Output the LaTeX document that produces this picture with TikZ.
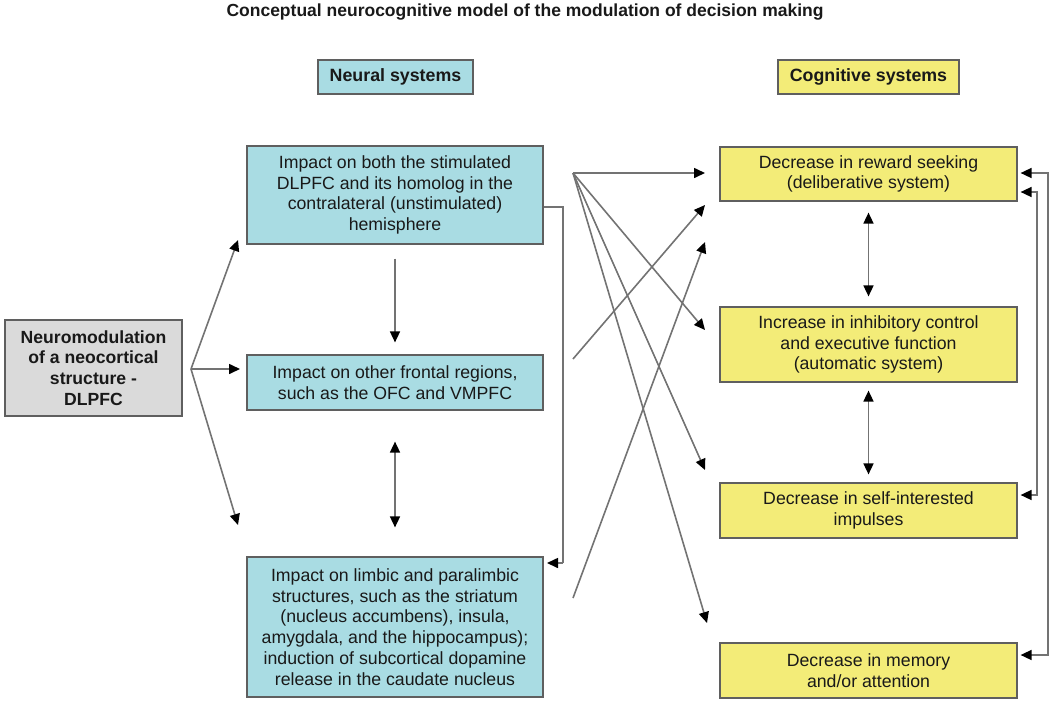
\documentclass[tikz,border=0pt]{standalone}
\usepackage{fontspec}
\setmainfont{Liberation Sans}
\usetikzlibrary{arrows.meta,calc}
\definecolor{nblue}{RGB}{169,220,227}
\definecolor{cyel}{RGB}{243,236,120}
\definecolor{dgray}{RGB}{218,218,218}
\definecolor{boxline}{RGB}{95,95,95}
\definecolor{linegray}{RGB}{115,115,115}
\definecolor{txt}{RGB}{25,25,25}
\begin{document}
\begin{tikzpicture}[x=1pt,y=-1pt,
  box/.style={draw=boxline, line width=1.2pt, align=center, inner sep=0pt,
    font=\fontsize{17.7}{20.7}\selectfont, text=txt},
  neural/.style={box, fill=nblue, minimum width=296pt},
  cog/.style={box, fill=cyel, minimum width=297pt},
  head/.style={box, font=\fontsize{17.8}{20}\selectfont\bfseries, minimum height=34pt},
  arr/.style={draw=linegray, line width=1.6pt, -{Triangle[length=11pt,width=10pt,color=black]}},
  darr/.style={draw=linegray, line width=1.6pt, {Triangle[length=11pt,width=10pt,color=black]}-{Triangle[length=11pt,width=10pt,color=black]}},
  ln/.style={draw=linegray, line width=1.6pt}]
\useasboundingbox (0,0) rectangle (1050,702);

% title and headers
\node[font=\fontsize{17.5}{20}\selectfont\bfseries, text=txt] (title) at (525,12)
  {Conceptual neurocognitive model of the modulation of decision making};
\node[head, fill=nblue, minimum width=155pt] (neural) at (395.5,77) {Neural systems};
\node[head, fill=cyel, minimum width=181pt] (cognitive) at (868.5,77) {Cognitive systems};

% source box
\node[box, fill=dgray, minimum width=177pt, minimum height=96pt,
  font=\fontsize{17.6}{20.7}\selectfont\bfseries] (dl) at (93.5,368)
  {Neuromodulation\\of a neocortical\\structure -\\DLPFC};

% neural boxes
\node[neural, minimum height=98pt] (A) at (395,195)
  {Impact on both the stimulated\\DLPFC and its homolog in the\\contralateral (unstimulated)\\hemisphere};
\node[neural, minimum height=55pt] (B) at (395,382.5)
  {Impact on other frontal regions,\\such as the OFC and VMPFC};
\node[neural, minimum height=140pt] (C) at (395,627)
  {Impact on limbic and paralimbic\\structures, such as the striatum\\(nucleus accumbens), insula,\\amygdala, and the hippocampus);\\induction of subcortical dopamine\\release in the caudate nucleus};

% cognitive boxes
\node[cog, minimum height=54pt] (Y1) at (868.5,174)
  {Decrease in reward seeking\\(deliberative system)};
\node[cog, minimum height=75pt] (Y2) at (868.5,344.5)
  {Increase in inhibitory control\\and executive function\\(automatic system)};
\node[cog, minimum height=55pt] (Y3) at (868.5,510.5)
  {Decrease in self-interested\\impulses};
\node[cog, minimum height=55pt] (Y4) at (868.5,670.5)
  {Decrease in memory\\and/or attention};

% fan from source box
\coordinate (f) at (191,369);
\coordinate (fa) at (238,240);
\coordinate (fb) at (240,369);
\coordinate (fc) at (238,525);
\draw[arr] (f) -- (fa);
\draw[arr] (f) -- (fb);
\draw[arr] (f) -- (fc);

% within neural column
\draw[arr] ([yshift=-14pt]A.south) -- ([yshift=12pt]B.north);
\draw[darr] ([yshift=-31pt]B.south) -- ([yshift=29pt]C.north);
\coordinate (r1) at (563,207);
\coordinate (r2) at (563,563);
\coordinate (r3) at (547,563);
\draw[ln] (A.east |- r1) -- (r1) -- (r2);
\draw[arr] (r2) -- (r3);

% crossing connectors
\coordinate (o) at (573,173);
\coordinate (t1) at (705,173);
\coordinate (t2) at (705,330);
\coordinate (t3) at (705,470);
\coordinate (t4) at (707,623);
\draw[arr] (o) -- (t1);
\draw[arr] (o) -- (t2);
\draw[arr] (o) -- (t3);
\draw[arr] (o) -- (t4);
\coordinate (ob) at (573,359);
\coordinate (tb) at (705,205);
\draw[arr] (ob) -- (tb);
\coordinate (oc) at (573,598);
\coordinate (tc) at (705,242);
\draw[arr] (oc) -- (tc);

% within cognitive column
\draw[darr] ([yshift=-11pt]Y1.south) -- ([yshift=10pt]Y2.north);
\draw[darr] ([yshift=-8pt]Y2.south) -- ([yshift=8pt]Y3.north);

% right feedback loops
\coordinate (p1) at (1048,173);
\coordinate (p2) at (1048,655);
\draw[darr] ([xshift=3pt]Y1.east |- p1) -- (p1) -- (p2) -- ([xshift=3pt]Y4.east |- p2);
\coordinate (q1) at (1037,192);
\coordinate (q2) at (1037,495);
\draw[darr] ([xshift=3pt]Y1.east |- q1) -- (q1) -- (q2) -- ([xshift=3pt]Y3.east |- q2);
\end{tikzpicture}
\end{document}
